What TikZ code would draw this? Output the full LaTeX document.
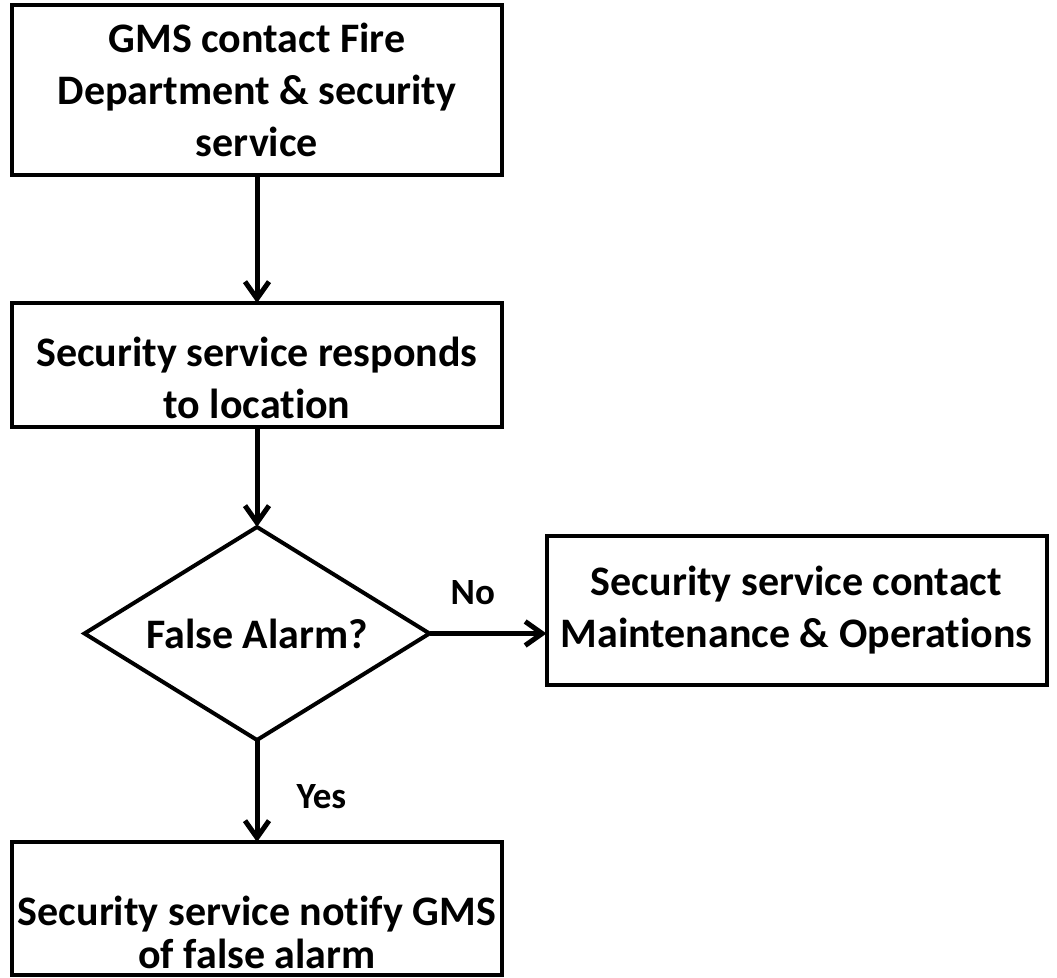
\documentclass[tikz,border=0pt]{standalone}
\usepackage{fontspec}
\setmainfont{Carlito}[Ligatures=NoCommon]
\usetikzlibrary{positioning,shapes.geometric,arrows.meta}

\tikzset{
  stepbox/.style={draw, line width=4pt, rectangle, align=center, inner sep=0pt, outer sep=0pt,
    font=\fontsize{42}{52}\selectfont\bfseries},
  steptext/.style={align=center, inner sep=0pt, font=\fontsize{42}{52}\selectfont\bfseries},
  askbox/.style={draw, line width=4pt, diamond, aspect=1.62, inner sep=0pt, outer sep=0pt,
    minimum width=345pt, minimum height=213pt, font=\fontsize{42}{52}\selectfont\bfseries},
  flow/.style={->, line width=5pt},
  answer/.style={inner sep=0pt, font=\fontsize{37}{40}\selectfont\bfseries},
  >={Straight Barb[length=17pt,width=24pt]}
}

\begin{document}
\begin{tikzpicture}[x=1pt, y=1pt]
            \useasboundingbox (0,0) rectangle (1057,977);

            \node [stepbox, minimum width=490pt, minimum height=170pt] (gms) at (257,887)
                {GMS contact Fire\\Department \& security\\service};
            \node [stepbox, minimum width=490pt, minimum height=124pt, below=128pt of gms] (respond) {};
            \node [steptext] (respondtext) at ([yshift=-13pt]respond.center)
                {Security service responds\\to location};
            \node [askbox, below=100pt of respond] (alarm) {False Alarm?};
            \node [stepbox, minimum width=500pt, minimum height=149pt, right=117pt of alarm, yshift=23pt] (maint)
                {Security service contact\\Maintenance \& Operations};
            \node [stepbox, minimum width=490pt, minimum height=133pt, below=102pt of alarm] (notify) {};
            \node [steptext, font=\fontsize{42}{43}\selectfont\bfseries] (notifytext) at ([yshift=-23.5pt]notify.center)
                {Security service notify GMS\\of false alarm};

            \draw [flow] (gms) -- (respond);
            \draw [flow] (respond) -- (alarm);
            \draw [flow] (alarm.east) -- (alarm.east -| maint.west) node [answer, pos=0.37, above=26pt] (no) {No};
            \draw [flow] (alarm) -- (notify) node [answer, pos=0.56, right=37pt] (yes) {Yes};
        \end{tikzpicture}
\end{document}
